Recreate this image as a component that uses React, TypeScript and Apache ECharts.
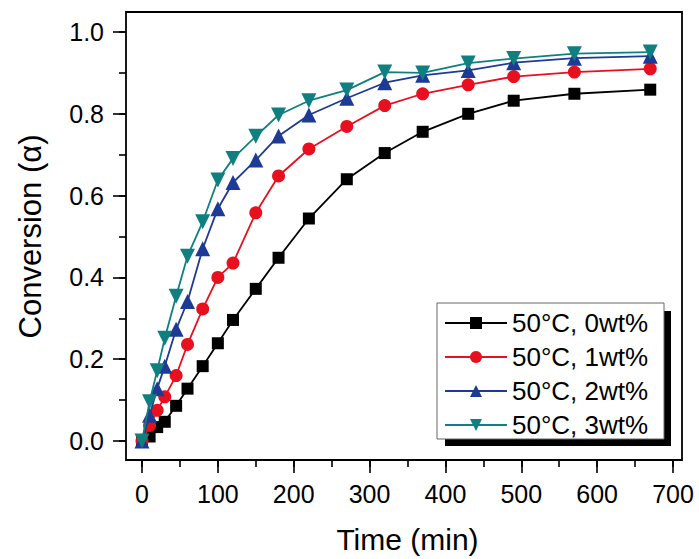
import React, { useEffect, useRef } from "react";
import * as echarts from "echarts";

const TIME = [0, 10, 20, 30, 45, 60, 80, 100, 120, 150, 180, 220, 270, 320, 370, 430, 490, 570, 670];
const CONV_0WT = [0, 0.011, 0.034, 0.047, 0.086, 0.128, 0.183, 0.239, 0.296, 0.372, 0.448, 0.544, 0.64, 0.704, 0.756, 0.8, 0.832, 0.849, 0.859];
const CONV_1WT = [0, 0.038, 0.075, 0.108, 0.16, 0.236, 0.323, 0.4, 0.435, 0.558, 0.648, 0.714, 0.769, 0.82, 0.849, 0.871, 0.891, 0.902, 0.91];
const CONV_2WT = [0, 0.063, 0.128, 0.183, 0.273, 0.341, 0.47, 0.568, 0.632, 0.687, 0.746, 0.797, 0.838, 0.876, 0.894, 0.906, 0.925, 0.936, 0.941];
const CONV_3WT = [0, 0.096, 0.172, 0.251, 0.354, 0.452, 0.536, 0.638, 0.691, 0.745, 0.797, 0.832, 0.858, 0.902, 0.9, 0.924, 0.935, 0.947, 0.951];

const SERIES_NAMES = ["50°C, 0wt%", "50°C, 1wt%", "50°C, 2wt%", "50°C, 3wt%"];
const X_TITLE = "Time (min)";
const Y_TITLE = "Conversion (α)";

const FONT = "'Liberation Sans', Arial, Helvetica, sans-serif";

export default function App() {
  const ref = useRef<HTMLDivElement>(null);

  useEffect(() => {
    if (!ref.current) return;
    const chart = echarts.init(ref.current, null, { renderer: "svg" });

    const pair = (vals: number[]) => TIME.map((t, i) => [t, vals[i]]);
    const styles = [
      { color: "#000000", symbol: "rect", size: 12 },
      { color: "#e8101e", symbol: "circle", size: 13 },
      { color: "#1d3a94", symbol: "triangle", size: 15 },
      { color: "#0f7f7f", symbol: "path://M0,0 L10,0 L5,9 Z", size: 15 },
    ];
    const datasets = [CONV_0WT, CONV_1WT, CONV_2WT, CONV_3WT];
    const tickStyle = { color: "#000", width: 1.6 };

    const option: any = {
      animation: false,
      backgroundColor: "#ffffff",
      textStyle: { fontFamily: FONT },
      grid: { left: 142, right: 26, top: 32, bottom: 118, containLabel: false },
      xAxis: [
        {
          type: "value",
          position: "bottom",
          min: 0,
          max: 700,
          interval: 100,
          offset: 19,
          name: X_TITLE,
          nameLocation: "middle",
          nameGap: 64,
          nameTextStyle: { fontSize: 30, color: "#000", fontFamily: FONT },
          axisLine: { show: false, onZero: false },
          axisTick: { show: true, inside: false, length: 13, lineStyle: tickStyle },
          splitLine: { show: false },
          axisLabel: { margin: 21, fontSize: 25, color: "#000", fontFamily: FONT },
          z: 5,
        },
        {
          type: "value",
          position: "bottom",
          min: 0,
          max: 700,
          interval: 50,
          offset: 19,
          axisLine: { show: false, onZero: false },
          axisTick: { show: true, inside: false, length: 7, lineStyle: tickStyle },
          splitLine: { show: false },
          axisLabel: { show: false },
        },
      ],
      yAxis: [
        {
          type: "value",
          position: "left",
          min: 0,
          max: 1,
          interval: 0.2,
          offset: 16,
          name: Y_TITLE,
          nameLocation: "middle",
          nameGap: 80,
          nameTextStyle: { fontSize: 31, color: "#000", fontFamily: FONT },
          axisLine: { show: false, onZero: false },
          axisTick: { show: true, inside: false, length: 13, lineStyle: tickStyle },
          splitLine: { show: false },
          axisLabel: {
            margin: 22,
            fontSize: 25,
            color: "#000",
            fontFamily: FONT,
            formatter: (v: number) => v.toFixed(1),
          },
          z: 5,
        },
        {
          type: "value",
          position: "left",
          min: 0,
          max: 1,
          interval: 0.1,
          offset: 16,
          axisLine: { show: false, onZero: false },
          axisTick: { show: true, inside: false, length: 7, lineStyle: tickStyle },
          splitLine: { show: false },
          axisLabel: { show: false },
        },
      ],
      legend: {
        orient: "vertical",
        left: 444,
        top: 310,
        padding: 0,
        itemGap: 8,
        itemWidth: 62,
        itemHeight: 15,
        itemTextGap: 7,
        textStyle: { fontSize: 26, color: "#000", fontFamily: FONT, lineHeight: 26 },
        data: SERIES_NAMES,
      },
      graphic: [
        {
          type: "rect",
          z: 0,
          shape: { x: 445, y: 311, width: 226, height: 135 },
          style: { fill: "#000000" },
        },
        {
          type: "rect",
          z: 1,
          shape: { x: 437, y: 303, width: 227, height: 136 },
          style: { fill: "#ffffff", stroke: "#666666", lineWidth: 1 },
        },
        {
          type: "rect",
          z: 1,
          shape: { x: 126, y: 12, width: 556, height: 448 },
          style: { fill: "none", stroke: "#000000", lineWidth: 1.8 },
        },
      ],
      series: datasets.map((vals, i) => ({
        name: SERIES_NAMES[i],
        type: "line",
        xAxisIndex: 0,
        yAxisIndex: 0,
        data: pair(vals),
        symbol: styles[i].symbol,
        symbolSize: styles[i].size,
        showAllSymbol: true,
        clip: false,
        z: 3 + i,
        lineStyle: { color: styles[i].color, width: 1.8 },
        itemStyle: { color: styles[i].color, borderWidth: 0 },
      })),
    };

    chart.setOption(option);
    return () => chart.dispose();
  }, []);

  return (
    <div
      ref={ref}
      style={{ position: "fixed", left: 0, top: 0, width: 699, height: 559, background: "#fff" }}
    />
  );
}
